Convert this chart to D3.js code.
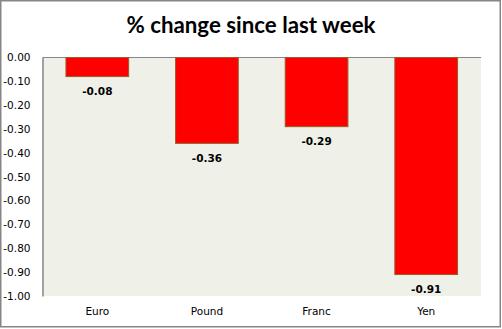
<!DOCTYPE html>
<html><head><meta charset="utf-8">
<script src="https://cdn.jsdelivr.net/npm/d3@7"></script>
<style>html,body{margin:0;padding:0;background:#fff;}svg{display:block;}</style>
</head><body>
<script>
const categories = ["Euro", "Pound", "Franc", "Yen"];
const values = [-0.08, -0.36, -0.29, -0.91];
const yTicks = [0, -0.1, -0.2, -0.3, -0.4, -0.5, -0.6, -0.7, -0.8, -0.9, -1.0];
const title = "% change since last week";

const W = 502, H = 329;
const plot = {left: 42.5, right: 481, top: 57.5, bottom: 296};
const svg = d3.select("body").append("svg").attr("width", W).attr("height", H);

svg.append("rect").attr("x", 0.75).attr("y", 0.75).attr("width", 499.5).attr("height", 326)
  .attr("fill", "#fff").attr("stroke", "#868686").attr("stroke-width", 1.5);

svg.append("text").attr("x", 251).attr("y", 33).attr("text-anchor", "middle")
  .attr("font-family", "Lato, 'Open Sans', sans-serif").attr("font-weight", "bold")
  .attr("font-size", 22.3).attr("fill", "#000").text(title);

const x = d3.scaleBand().domain(categories).range([plot.left, plot.right]).paddingInner(0.428).paddingOuter(0.214);
const y = d3.scaleLinear().domain([0, -1]).range([plot.top, plot.bottom]);

svg.append("rect").attr("x", plot.left).attr("y", plot.top)
  .attr("width", plot.right - plot.left).attr("height", plot.bottom - plot.top).attr("fill", "#eff1e8");

svg.append("line").attr("x1", plot.left).attr("x2", plot.right).attr("y1", plot.top).attr("y2", plot.top)
  .attr("stroke", "#868686").attr("stroke-width", 1);

svg.selectAll("rect.bar").data(values).join("rect").attr("class", "bar")
  .attr("x", (d, i) => x(categories[i]))
  .attr("y", d => y(0))
  .attr("width", x.bandwidth())
  .attr("height", d => y(d) - y(0))
  .attr("fill", "#ff0000").attr("stroke", "#9a5c2c").attr("stroke-width", 1);

const fmt = d => d.toFixed(2).replace("-0.00", "0.00");

svg.selectAll("text.lbl").data(values).join("text").attr("class", "lbl")
  .attr("x", (d, i) => x(categories[i]) + x.bandwidth() / 2)
  .attr("y", d => y(d) + 15).attr("dy", "0.35em")
  .attr("text-anchor", "middle").attr("font-family", "'DejaVu Sans', sans-serif")
  .attr("font-weight", "bold").attr("font-size", 10.5).attr("fill", "#000")
  .text(fmt);

const yAxis = d3.axisLeft(y).tickValues(yTicks).tickFormat(fmt).tickSize(0).tickPadding(12);
const ga = svg.append("g").attr("transform", `translate(${plot.left},0)`).call(yAxis);
ga.select(".domain").attr("stroke", "#868686").attr("stroke-width", 1.5);
ga.selectAll("text").attr("font-family", "'DejaVu Sans', sans-serif").attr("font-size", 10.5).attr("fill", "#000");

const xAxis = d3.axisBottom(x).tickSize(0).tickPadding(12);
const gx = svg.append("g").attr("transform", `translate(0,${plot.bottom})`).call(xAxis);
gx.select(".domain").remove();
gx.selectAll("text").attr("font-family", "'DejaVu Sans', sans-serif").attr("font-size", 10.5).attr("fill", "#000");
</script>
</body></html>
